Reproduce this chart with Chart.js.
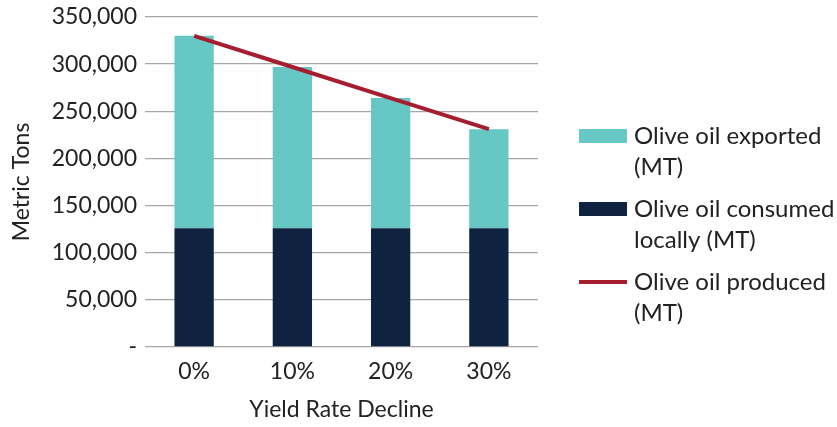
<!DOCTYPE html>
<html>
<head>
<meta charset="utf-8">
<script src="https://cdn.jsdelivr.net/npm/chart.js@4/dist/chart.umd.min.js"></script>
<style>
  html, body { margin: 0; padding: 0; background: #fff; }
  #wrap { width: 837px; height: 427px; }
</style>
</head>
<body>
<div id="wrap"><canvas id="chart" width="837" height="427"></canvas></div>
<script>
// data
const categories = ['0%', '10%', '20%', '30%'];
const consumedLocally = [126000, 126000, 126000, 126000];
const exported = [204000, 171000, 138000, 105000];
const produced = [330000, 297000, 264000, 231000];
const yTicks = [0, 50000, 100000, 150000, 200000, 250000, 300000, 350000];

const TEAL = '#66C7C4';
const NAVY = '#0F2340';
const RED = '#A51D2F';
const FONT = 'Lato, "DejaVu Sans", sans-serif';

// legend that wraps its labels on two lines, drawn right of the plot
const sideLegend = {
  id: 'sideLegend',
  afterDraw(chart, args, opts) {
    const { ctx } = chart;
    ctx.save();
    ctx.font = '24px ' + FONT;
    ctx.textBaseline = 'middle';
    opts.items.forEach((it, i) => {
      const y = opts.top + i * opts.pitch;
      if (it.type === 'line') {
        ctx.strokeStyle = it.color;
        ctx.lineWidth = 4;
        ctx.beginPath(); ctx.moveTo(opts.x, y); ctx.lineTo(opts.x + 48, y); ctx.stroke();
      } else {
        ctx.fillStyle = it.color;
        ctx.fillRect(opts.x, y - 7, 48, 14);
      }
      ctx.fillStyle = '#222';
      it.lines.forEach((t, j) => ctx.fillText(t, opts.x + 55, y + j * 31));
    });
    ctx.restore();
  }
};

new Chart(document.getElementById('chart').getContext('2d'), {
  type: 'bar',
  data: {
    labels: categories,
    datasets: [
      {
        type: 'line',
        label: 'Olive oil produced (MT)',
        data: produced,
        borderColor: RED,
        borderWidth: 4,
        pointRadius: 0,
        tension: 0,
        stack: 'line',
        order: 0
      },
      {
        label: 'Olive oil consumed locally (MT)',
        data: consumedLocally,
        backgroundColor: NAVY,
        stack: 'bars',
        order: 1
      },
      {
        label: 'Olive oil exported (MT)',
        data: exported,
        backgroundColor: TEAL,
        stack: 'bars',
        order: 1
      }
    ]
  },
  options: {
    responsive: false,
    animation: false,
    layout: { padding: { top: 17, right: 299, left: 0, bottom: 0 } },
    datasets: { bar: { barPercentage: 0.4, categoryPercentage: 1.0 } },
    plugins: {
      legend: { display: false },
      tooltip: { enabled: false },
      sideLegend: {
        x: 579, top: 136, pitch: 73,
        items: [
          { type: 'box', color: TEAL, lines: ['Olive oil exported', '(MT)'] },
          { type: 'box', color: NAVY, lines: ['Olive oil consumed', 'locally (MT)'] },
          { type: 'line', color: RED, lines: ['Olive oil produced', '(MT)'] }
        ]
      }
    },
    scales: {
      x: {
        stacked: true,
        grid: { display: false },
        border: { display: false },
        ticks: { color: '#222', font: { family: FONT, size: 23 }, padding: 3 },
        title: { display: true, text: 'Yield Rate Decline', color: '#222',
                 font: { family: FONT, size: 23 }, padding: { top: 8 } },
        afterFit: s => { s.height = 80; }
      },
      y: {
        stacked: true,
        min: 0,
        max: 350000,
        afterBuildTicks: s => { s.ticks = yTicks.map(v => ({ value: v })); },
        grid: { color: '#a6a6a6', lineWidth: 1.3, drawTicks: false },
        border: { display: false },
        ticks: {
          color: '#222',
          font: { family: FONT, size: 23 },
          padding: 8,
          callback: v => v === 0 ? '-' : v.toLocaleString('en-US')
        },
        title: { display: true, text: 'Metric Tons', color: '#222',
                 font: { family: FONT, size: 23 }, padding: { top: 8, bottom: 4 } },
        afterFit: s => { s.width = 145; s.paddingTop = 0; s.paddingBottom = 0; }
      }
    }
  },
  plugins: [sideLegend]
});
</script>
</body>
</html>
